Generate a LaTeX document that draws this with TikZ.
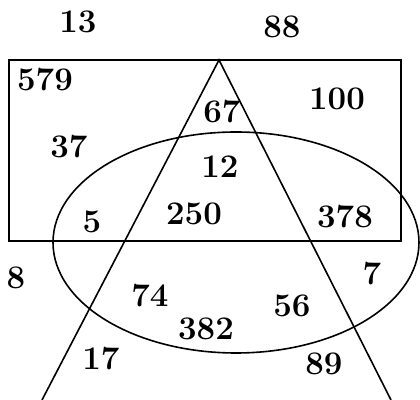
\documentclass[tikz,border=0pt]{standalone}
\usepackage{tikz}
\usetikzlibrary{calc}

\begin{document}
\begin{tikzpicture}[x=.5pt,y=-.5pt,line width=.8pt,
  num/.style={font=\fontsize{16.5}{18}\selectfont\bfseries,inner sep=0pt}]
 \useasboundingbox (0,0) rectangle (420,400);
 \coordinate (top) at (219,60);
 \coordinate (lft) at (42,400);
 \coordinate (rgt) at (391,400);
 \coordinate (ec) at (236,242.5);
 \draw (9,60) rectangle (401,241);
 \draw (lft)--(top)--(rgt);
 \draw (ec) ellipse[x radius=183,y radius=110.5];
 % outside the three regions
 \node[num] (n13) at (78,22) {13};
 \node[num] (n88) at (282,27) {88};
 \node[num] (n8) at (16,278) {8};
 % rectangle
 \node[num] (n579) at (45,80) {579};
 \node[num] (n100) at (337,99) {100};
 \node[num] (n37) at (69,147) {37};
 \node[num] (n67) at (222,112) {67};
 \node[num] (n12) at (220,167) {12};
 \node[num] (n5) at (92,222) {5};
 \node[num] (n250) at (194,214) {250};
 \node[num] (n378) at (345,217) {378};
 % below the rectangle
 \node[num] (n7) at (372,274) {7};
 \node[num] (n74) at (150,296) {74};
 \node[num] (n56) at (292,306) {56};
 \node[num] (n382) at (206,329) {382};
 \node[num] (n17) at (101,359) {17};
 \node[num] (n89) at (324,364) {89};
\end{tikzpicture}
\end{document}
